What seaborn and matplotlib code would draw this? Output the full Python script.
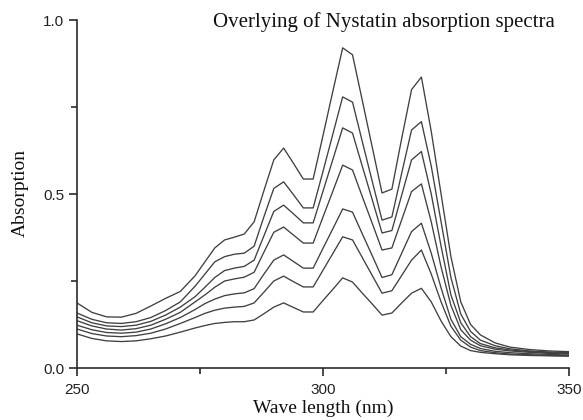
import numpy as np
import pandas as pd
import matplotlib
matplotlib.use("Agg")
import matplotlib.pyplot as plt
import seaborn as sns

wavelength = [250, 253, 256, 259, 262, 265, 268, 271, 274, 276, 278, 280, 282, 284, 286, 288, 290, 292,
              294, 296, 298, 300, 302, 304, 306, 308, 310, 312, 314, 316, 318, 320,
              322, 324, 326, 328, 330, 332, 335, 338, 342, 346, 350]

spectrum_1 = [0.187, 0.160, 0.147, 0.146, 0.157, 0.178, 0.200, 0.220, 0.265, 0.305, 0.345, 0.368, 0.376, 0.385, 0.420, 0.510, 0.598, 0.632,
              0.588, 0.543, 0.543, 0.668, 0.795, 0.920, 0.900, 0.768, 0.635, 0.503, 0.514, 0.660, 0.800, 0.836,
              0.680, 0.500, 0.320, 0.190, 0.125, 0.095, 0.072, 0.060, 0.053, 0.049, 0.047]
spectrum_2 = [0.158, 0.140, 0.130, 0.128, 0.133, 0.145, 0.165, 0.190, 0.235, 0.270, 0.305, 0.320, 0.327, 0.330, 0.350, 0.435, 0.516, 0.535,
              0.498, 0.460, 0.460, 0.565, 0.672, 0.779, 0.764, 0.650, 0.537, 0.425, 0.434, 0.560, 0.684, 0.708,
              0.580, 0.420, 0.260, 0.155, 0.105, 0.080, 0.064, 0.055, 0.049, 0.046, 0.044]
spectrum_3 = [0.147, 0.130, 0.121, 0.119, 0.123, 0.134, 0.152, 0.175, 0.205, 0.232, 0.260, 0.280, 0.287, 0.292, 0.310, 0.380, 0.450, 0.468,
              0.443, 0.417, 0.417, 0.508, 0.599, 0.690, 0.675, 0.579, 0.484, 0.388, 0.395, 0.497, 0.598, 0.622,
              0.500, 0.350, 0.210, 0.130, 0.090, 0.070, 0.058, 0.052, 0.047, 0.044, 0.042]
spectrum_4 = [0.136, 0.121, 0.112, 0.109, 0.113, 0.123, 0.140, 0.160, 0.190, 0.210, 0.232, 0.250, 0.256, 0.261, 0.275, 0.333, 0.390, 0.405,
              0.382, 0.359, 0.359, 0.434, 0.508, 0.583, 0.569, 0.492, 0.416, 0.339, 0.345, 0.426, 0.507, 0.529,
              0.420, 0.290, 0.180, 0.110, 0.080, 0.064, 0.054, 0.049, 0.045, 0.042, 0.040]
spectrum_5 = [0.123, 0.110, 0.102, 0.100, 0.103, 0.112, 0.127, 0.145, 0.168, 0.185, 0.198, 0.208, 0.213, 0.216, 0.228, 0.270, 0.310, 0.325,
              0.306, 0.287, 0.287, 0.344, 0.400, 0.457, 0.448, 0.385, 0.323, 0.260, 0.268, 0.330, 0.392, 0.416,
              0.330, 0.230, 0.140, 0.090, 0.068, 0.056, 0.048, 0.044, 0.041, 0.039, 0.037]
spectrum_6 = [0.112, 0.099, 0.092, 0.090, 0.093, 0.100, 0.112, 0.128, 0.145, 0.157, 0.166, 0.172, 0.175, 0.177, 0.187, 0.218, 0.250, 0.264,
              0.248, 0.233, 0.233, 0.281, 0.329, 0.377, 0.368, 0.317, 0.266, 0.215, 0.222, 0.266, 0.310, 0.339,
              0.270, 0.190, 0.120, 0.080, 0.060, 0.050, 0.044, 0.040, 0.038, 0.036, 0.035]
spectrum_7 = [0.098, 0.085, 0.078, 0.076, 0.078, 0.084, 0.092, 0.103, 0.115, 0.122, 0.128, 0.131, 0.133, 0.133, 0.138, 0.156, 0.175, 0.187,
              0.174, 0.161, 0.161, 0.194, 0.226, 0.259, 0.247, 0.215, 0.184, 0.152, 0.158, 0.187, 0.215, 0.229,
              0.190, 0.135, 0.090, 0.063, 0.050, 0.045, 0.041, 0.038, 0.036, 0.035, 0.034]

series = [spectrum_1, spectrum_2, spectrum_3, spectrum_4, spectrum_5, spectrum_6, spectrum_7]
names = [f"S{i+1}" for i in range(len(series))]

frames = []
for name, vals in zip(names, series):
    frames.append(pd.DataFrame({"wavelength": wavelength, "absorption": vals, "sample": name}))
df = pd.concat(frames, ignore_index=True)

sns.set_style("ticks")
plt.rcParams["font.family"] = ["Liberation Sans", "DejaVu Sans"]

fig = plt.figure(figsize=(5.83, 4.20), dpi=100)
W, H = 583, 420
ax = fig.add_axes([77 / W, (H - 368) / H, (569 - 77) / W, (368 - 20) / H])

sns.lineplot(data=df, x="wavelength", y="absorption", hue="sample", units="sample",
             estimator=None, palette=["#404040"] * len(series), linewidth=0.95,
             legend=False, ax=ax, sort=False)

ax.set_xlim(250, 350)
ax.set_ylim(0, 1.0)
ax.set_xticks([250, 300, 350])
ax.set_xticks([275, 325], minor=True)
ax.set_yticks([0.0, 0.5, 1.0])
ax.set_yticklabels(["0.0", "0.5", "1.0"])
ax.set_yticks([0.25, 0.75], minor=True)
ax.set_xlabel("")
ax.set_ylabel("")

for side in ["top", "right"]:
    ax.spines[side].set_visible(False)
for side in ["left", "bottom"]:
    ax.spines[side].set_color("#2a2a2a")
    ax.spines[side].set_linewidth(1.2)

ax.tick_params(axis="both", which="major", direction="out", length=6, width=1.2,
               color="#2a2a2a", labelsize=11, labelcolor="#222222", pad=3)
ax.tick_params(axis="both", which="minor", direction="out", length=4, width=1.2, color="#2a2a2a")
ax.tick_params(axis="x", which="major", pad=5)

serif = ["Liberation Serif", "DejaVu Serif"]
fig.text(384 / W, 1 - 22 / H, "Overlying of Nystatin absorption spectra", ha="center", va="center",
         family=serif, fontsize=15, color="#111111")
fig.text(20 / W, 1 - 193 / H, "Absorption", rotation=90, ha="center", va="center",
         family=serif, fontsize=14, color="#111111")
fig.text(323 / W, 1 - 408 / H, "Wave length (nm)", ha="center", va="center",
         family=serif, fontsize=14, color="#111111")

fig.savefig("out.png", dpi=100, facecolor="white")
